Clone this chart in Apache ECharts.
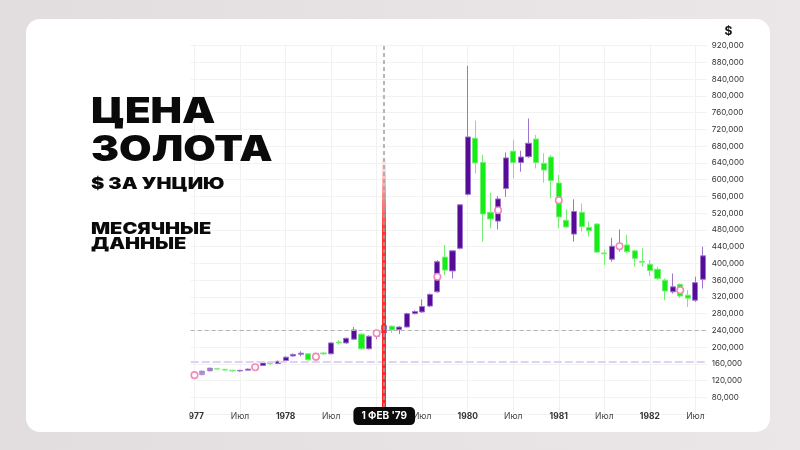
<!DOCTYPE html>
<html><head><meta charset="utf-8">
<script src="https://cdn.jsdelivr.net/npm/echarts@6/dist/echarts.min.js"></script>
<style>
html,body{margin:0;padding:0;width:800px;height:450px;overflow:hidden;background:linear-gradient(90deg,#e2dedf,#ebe7e9);}
#card{position:absolute;left:26px;top:19px;width:744px;height:413px;background:#fff;border-radius:14px;}
#chart{position:absolute;left:0;top:0;width:800px;height:450px;}
</style></head><body>
<div id="card"></div><div id="chart"></div>
<script>
const categories = [
 '1977-01','1977-02','1977-03','1977-04','1977-05','1977-06','1977-07','1977-08','1977-09','1977-10','1977-11','1977-12',
 '1978-01','1978-02','1978-03','1978-04','1978-05','1978-06','1978-07','1978-08','1978-09','1978-10','1978-11','1978-12',
 '1979-01','1979-02','1979-03','1979-04','1979-05','1979-06','1979-07','1979-08','1979-09','1979-10','1979-11','1979-12',
 '1980-01','1980-02','1980-03','1980-04','1980-05','1980-06','1980-07','1980-08','1980-09','1980-10','1980-11','1980-12',
 '1981-01','1981-02','1981-03','1981-04','1981-05','1981-06','1981-07','1981-08','1981-09','1981-10','1981-11','1981-12',
 '1982-01','1982-02','1982-03','1982-04','1982-05','1982-06','1982-07','1982-08'
];
// [open, close, low, high]
const candles = [
 [135000,132000,130000,137000],[134000,143000,132000,145000],[143000,150000,142000,152000],[149000,147000,145000,151000],
 [147000,145000,143000,148000],[145000,143000,140000,146000],[143000,144500,141000,146000],[145000,147500,144000,149000],
 [148000,155000,147000,157000],[156000,162000,155000,164000],[162500,161000,157000,166000],[161000,166000,160000,168000],
 [168000,176000,166000,178000],[179000,182500,177000,185000],[183000,185500,178000,190000],[184000,170000,168000,186000],
 [170000,185000,168000,187000],[186000,184000,181000,188000],[184000,210000,183000,212000],[212000,210000,206000,217000],
 [210000,221000,208000,223000],[219000,241000,218000,248000],[231000,196000,193000,234000],[196000,226000,194000,228000],
 [226000,235000,219000,237000],[234000,252000,232000,254000],[250000,241000,234000,252000],[242000,248000,231000,250000],
 [248000,280000,247000,282000],[280000,285000,278000,288000],[284000,297000,282000,314000],[298000,326000,296000,328000],
 [332000,404000,330000,408000],[415000,384000,372000,444000],[382000,430000,364000,432000],[436000,540000,433000,542000],
 [565000,702000,562000,872000],[699000,640000,615000,741000],[641000,518000,452000,659000],[522000,506000,484000,569000],
 [501000,554000,481000,561000],[579000,652000,559000,665000],[668000,641000,603000,695000],[641000,654000,619000,669000],
 [655000,687000,652000,746000],[697000,641000,627000,707000],[639000,623000,593000,663000],[654000,598000,555000,659000],
 [592000,511000,484000,611000],[503000,487000,485000,529000],[470000,524000,452000,553000],[522000,488000,476000,543000],
 [486000,478000,464000,500000],[494000,427000,425000,496000],[425000,423000,396000,432000],[410000,441000,404000,461000],
 [438000,445000,428000,481000],[444000,428000,425000,468000],[430000,412000,392000,433000],[405000,403000,392000,436000],
 [398000,383000,370000,408000],[386000,364000,360000,392000],[360000,334000,312000,364000],[332000,344000,328000,376000],
 [350000,322000,318000,352000],[324000,317000,296000,336000],[312000,354000,308000,368000],[362000,418000,340000,440000]
];
const markerCats = ['1977-01','1977-09','1978-05','1979-01','1979-09','1980-05','1981-01','1981-09','1982-05'];
const markerValues = [133000,152000,177000,233000,368000,527000,551000,441000,336000];
const crosshairCat = '1979-02';
const crosshairLabel = "1 ФЕВ '79";
const levelGray = 241000;
const levelLilac = 166000;
const yMin = 40000, yMax = 920000, yStep = 40000;
const julyLabel = 'Июл';
const titleLines = ['ЦЕНА', 'ЗОЛОТА'];
const subTitle = '$ ЗА УНЦИЮ';
const noteLines = ['МЕСЯЧНЫЕ', 'ДАННЫЕ'];
const unitLabel = '$';

const FONT = 'Inter, "Noto Sans", sans-serif';
const fadeCount = 9;
const isTick = (idx, val) => /-(01|07)$/.test(val);

const chart = echarts.init(document.getElementById('chart'));
chart.setOption({
  animation: false,
  backgroundColor: 'transparent',
  grid: {left: 190.7, right: 93.2, top: 45.7, bottom: 35.9},
  xAxis: {
    type: 'category', data: categories, boundaryGap: true,
    axisLine: {show: false}, axisTick: {show: false},
    axisLabel: {
      interval: isTick, margin: -2,
      formatter: v => v.endsWith('-01') ? '{y|' + v.slice(0, 4) + '}' : '{m|' + julyLabel + '}',
      rich: {
        y: {fontWeight: 'bold', fontSize: 8.5, color: '#333', fontFamily: FONT},
        m: {fontSize: 8.5, color: '#444', fontFamily: FONT}
      }
    },
    splitLine: {show: true, interval: isTick, alignWithLabel: true, lineStyle: {color: '#f1f1f1', width: 1}},
    axisPointer: {
      show: true, value: categories.indexOf(crosshairCat), status: 'show', type: 'line',
      triggerTooltip: false,
      lineStyle: {color: '#a0a0a0', type: [4, 3], width: 1.5},
      label: {show: true, formatter: () => crosshairLabel, backgroundColor: '#0b0b0b', color: '#fff',
        fontWeight: 'bold', fontSize: 10, fontFamily: FONT, padding: [4, 8, 4, 8], borderRadius: 5, margin: -7}
    }
  },
  yAxis: {
    type: 'value', position: 'right', min: yMin, max: yMax, interval: yStep,
    axisLine: {show: false}, axisTick: {show: false},
    axisLabel: {showMinLabel: false, fontSize: 8, color: '#333', margin: 5, fontFamily: FONT,
      formatter: v => v.toLocaleString('en-US')},
    splitLine: {lineStyle: {color: '#f2f2f2'}}
  },
  series: [
    {
      type: 'candlestick', barWidth: '74%',
      data: candles.map((d, i) => i < fadeCount ? {value: d, itemStyle: {opacity: 0.4 + 0.07 * i}} : d),
      itemStyle: {color: '#570c98', color0: '#14ee14', borderColor: '#9d74cf', borderColor0: '#74ef74', borderWidth: 1},
      markLine: {
        silent: true, symbol: ['none', 'none'], label: {show: false}, animation: false,
        data: [
          {yAxis: levelGray, lineStyle: {color: '#b3b3b3', type: [4, 3], width: 1}},
          {yAxis: levelLilac, lineStyle: {color: '#e0d2f0', type: [8, 3], width: 2}},
          {xAxis: crosshairCat, lineStyle: {width: 4, type: 'solid',
            color: new echarts.graphic.LinearGradient(0, 0, 0, 1, [
              {offset: 0, color: 'rgba(255,40,40,0)'},
              {offset: 0.3, color: 'rgba(255,40,40,0)'},
              {offset: 0.5, color: 'rgba(255,40,40,0.95)'},
              {offset: 1, color: '#ff2424'}])}}
        ]
      }
    },
    {
      type: 'scatter', silent: true, z: 5, symbol: 'circle', symbolSize: 6.5,
      data: markerCats.map((c, i) => [c, markerValues[i]]),
      itemStyle: {color: '#fff', borderColor: '#f48ab8', borderWidth: 1.6, opacity: 1}
    }
  ],
  graphic: [
    {type: 'text', x: 91, y: 112, scaleX: 1.2, z: 10, style: {text: titleLines[0], font: '900 35px ' + FONT, fill: '#0a0a0a', verticalAlign: 'middle', textVerticalAlign: 'middle'}},
    {type: 'text', x: 91, y: 150, scaleX: 1.2, z: 10, style: {text: titleLines[1], font: '900 35px ' + FONT, fill: '#0a0a0a', verticalAlign: 'middle', textVerticalAlign: 'middle'}},
    {type: 'text', x: 91, y: 184, scaleX: 1.25, z: 10, style: {text: subTitle, font: '900 16px ' + FONT, fill: '#0a0a0a', verticalAlign: 'middle', textVerticalAlign: 'middle'}},
    {type: 'text', x: 91, y: 229.5, scaleX: 1.25, z: 10, style: {text: noteLines[0], font: '900 16px ' + FONT, fill: '#0a0a0a', verticalAlign: 'middle', textVerticalAlign: 'middle'}},
    {type: 'text', x: 91, y: 244.5, scaleX: 1.25, z: 10, style: {text: noteLines[1], font: '900 16px ' + FONT, fill: '#0a0a0a', verticalAlign: 'middle', textVerticalAlign: 'middle'}},
    {type: 'text', x: 728.5, y: 31.5, z: 10, style: {text: unitLabel, font: 'bold 12px ' + FONT, fill: '#111', align: 'center', textAlign: 'center', verticalAlign: 'middle', textVerticalAlign: 'middle'}},
    {type: 'rect', z: 100, shape: {x: 150, y: 404, width: 39.5, height: 22}, style: {fill: '#fff'}}
  ]
});
</script></body></html>
